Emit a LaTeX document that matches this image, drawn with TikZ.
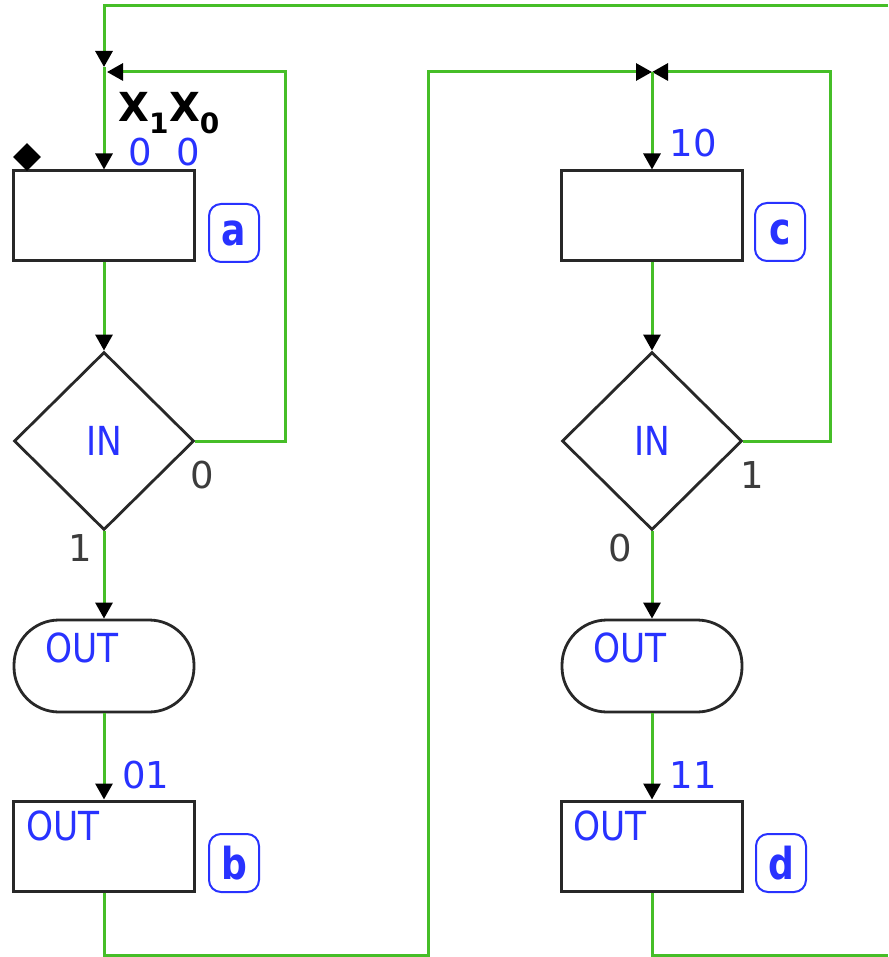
\documentclass[tikz,border=0pt]{standalone}
\usepackage{fontspec}
\setmainfont{DejaVu Sans}
\newfontfamily\nfont[FakeStretch=0.86]{DejaVu Sans}
\newfontfamily\bfnfont[FakeStretch=0.82]{DejaVu Sans Bold}
\usetikzlibrary{arrows.meta,shapes.geometric}
\definecolor{wgreen}{RGB}{70,190,40}
\definecolor{tblue}{RGB}{40,50,255}
\definecolor{bgray}{RGB}{40,40,40}
\definecolor{lgray}{RGB}{60,60,60}
\begin{document}
\begin{tikzpicture}[x=1pt,y=-1pt,
  wire/.style={draw=wgreen,line width=3pt},
  tip/.style={-{Triangle[width=17pt,length=16pt,color=black,fill=black]}},
  stepbox/.style={draw=bgray,line width=3pt,minimum width=181pt,minimum height=90pt,inner sep=0pt},
  decbox/.style={diamond,draw=bgray,line width=2.8pt,minimum width=180pt,minimum height=178pt,inner sep=0pt,text=tblue,font=\nfont\fontsize{40}{42}\selectfont},
  termbox/.style={draw=bgray,line width=2.8pt,rounded corners=45pt,minimum width=180pt,minimum height=92pt,inner sep=0pt},
  bluetxt/.style={text=tblue,inner sep=0pt,font=\nfont\fontsize{40}{42}\selectfont},
  codetxt/.style={text=tblue,inner sep=0pt,font=\fontsize{37}{39}\selectfont},
  branchtxt/.style={text=lgray,inner sep=0pt,font=\fontsize{37}{39}\selectfont},
  tag/.style={draw=tblue,line width=2pt,rounded corners=12pt,minimum width=50pt,minimum height=58pt,inner sep=0pt,text=tblue,font=\bfnfont\fontsize{44}{46}\selectfont}
]
\useasboundingbox (0,0) rectangle (888,957);

% left column
\node[stepbox] (a) at (104,216) {};
\node[decbox] (da) at (104,441) {IN};
\node[termbox] (ta) at (104,666) {};
\node[stepbox] (b) at (104,846) {};
\node[tag] (la) at (234,233) {a};
\node[tag] (lb) at (234,863) {b};
\node[diamond,fill=black,minimum size=28pt,inner sep=0pt] (start) at (27,157) {};
\node[inner sep=0pt,font=\bfseries\fontsize{40}{42}\selectfont] (xx) at (169,113) {X\textsubscript{1}X\textsubscript{0}};
\node[codetxt] (c0a) at (140,152) {0};
\node[codetxt] (c0b) at (188,152) {0};
\node[branchtxt] (z0a) at (202,475) {0};
\node[branchtxt] (z1a) at (80,548) {1};
\node[bluetxt] (oa) at (82,648) {OUT};
\node[bluetxt] (ob) at (63,826) {OUT};
\node[codetxt] (c01) at (146,775) {01};

% right column
\node[stepbox] (c) at (652,216) {};
\node[decbox] (dc) at (652,441) {IN};
\node[termbox] (tc) at (652,666) {};
\node[stepbox] (d) at (652,846) {};
\node[tag] (lc) at (780,232) {c};
\node[tag] (ld) at (781,863) {d};
\node[codetxt] (c10) at (693,143) {10};
\node[codetxt] (c11) at (693,775) {11};
\node[branchtxt] (z1c) at (752,475) {1};
\node[branchtxt] (z0c) at (620,548) {0};
\node[bluetxt] (oc) at (630,648) {OUT};
\node[bluetxt] (od) at (610,826) {OUT};

% coordinates
\coordinate (exTop) at (888,6);
\coordinate (exBot) at (888,955);
\coordinate (jLd) at (104,67);
\coordinate (jLr) at (107,72);
\coordinate (cA) at (285,72);
\coordinate (bl) at (428,955);
\coordinate (jR) at (652,72);
\coordinate (cC) at (830,72);

% connectors
\draw[wire,tip] (exTop) -| (jLd);
\draw[wire,tip] (jLd) -- (a.north);
\draw[wire,tip] (da.east) -| (cA) -- (jLr);
\draw[wire,tip] (a.south) -- (da.north);
\draw[wire,tip] (da.south) -- (ta.north);
\draw[wire,tip] (ta.south) -- (b.north);
\draw[wire,tip] (b.south) |- (bl) |- (jR);
\draw[wire,tip] (dc.east) -| (cC) -- (jR);
\draw[wire,tip] (jR) -- (c.north);
\draw[wire,tip] (c.south) -- (dc.north);
\draw[wire,tip] (dc.south) -- (tc.north);
\draw[wire,tip] (tc.south) -- (d.north);
\draw[wire] (d.south) |- (exBot);
\end{tikzpicture}
\end{document}
